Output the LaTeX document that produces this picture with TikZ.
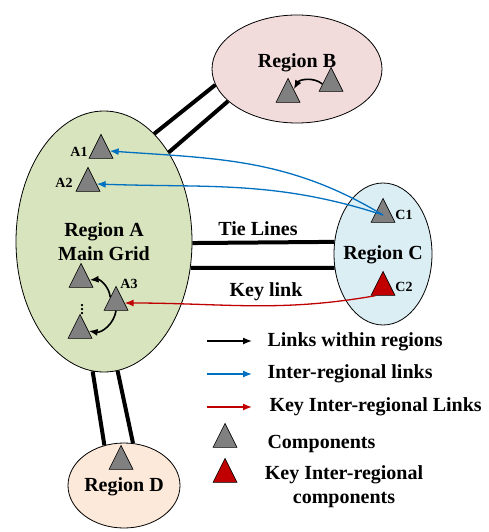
\documentclass[tikz,border=0pt]{standalone}
\usepackage{fontspec}
\setmainfont{Liberation Serif}
\usetikzlibrary{shapes.geometric,arrows.meta}

\definecolor{greenA}{HTML}{D7E4BD}
\definecolor{pinkB}{HTML}{F2DCDB}
\definecolor{blueC}{HTML}{DBEEF4}
\definecolor{peachD}{HTML}{FDE9D9}
\definecolor{compgray}{HTML}{808080}
\definecolor{keyred}{HTML}{C00000}
\definecolor{linkblue}{HTML}{0070C0}

\begin{document}
\begin{tikzpicture}[x=1pt,y=1pt,>={Latex[length=9pt,width=7pt]},
  every node/.style={font=\bfseries\fontsize{20}{24}\selectfont},
  region/.style={ellipse,draw,line width=0.8pt,inner sep=0pt},
  comp/.style={isosceles triangle,shape border rotate=90,isosceles triangle stretches,
    minimum width=24pt,minimum height=24pt,inner sep=0pt,draw,line width=0.6pt,fill=compgray},
  keycomp/.style={comp,fill=keyred},
  small/.style={font=\bfseries\fontsize{14}{16}\selectfont},
  tie/.style={line width=4pt},
  inner/.style={->,line width=1.6pt},
  inter/.style={->,line width=1.3pt,linkblue},
  keylink/.style={->,line width=1.3pt,keyred}]

\useasboundingbox (0,0) rectangle (488,-532);

\node[region,fill=greenA,minimum width=176pt,minimum height=261pt] (A) at (104,-241.5) {};

\node[region,fill=pinkB,minimum width=170pt,minimum height=108pt] (B) at (297,-69) {};

\node[region,fill=blueC,minimum width=98pt,minimum height=142pt] (C) at (383,-254) {};

\node[region,fill=peachD,minimum width=112pt,minimum height=85pt] (D) at (124,-485.5) {};

\node[align=center] (labA) at (104,-242) {Region A\\Main Grid};
\node (labB) at (297,-63) {Region B};
\node (labC) at (383,-255) {Region C};
\node (labD) at (124,-487) {Region D};
\node (tielab) at (258,-229) {Tie Lines};
\node (keylab) at (266,-292) {Key link};

\draw[tie] (A.65.3) -- (B.191.3);
\draw[tie] (A.54.9) -- (B.205.9);
\draw[tie] (A.-1) -- (C.166.8);
\draw[tie] (A.-17.3) -- (C.196.3);
\draw[tie] (A.265.1) -- (D.116.3);
\draw[tie] (A.276.7) -- (D.78.5);

\node[comp] (a1) at (101,-151) {};
\node[comp] (a2) at (88,-184) {};
\node[comp] (a4) at (81,-280) {};
\node[comp] (a3) at (116,-303) {};
\node[comp] (a5) at (80,-331) {};
\node[comp] (b1) at (288,-95) {};
\node[comp] (b2) at (331,-84) {};
\node[comp] (c1) at (383,-215) {};
\node[keycomp] (c2) at (383,-288) {};
\node[comp] (d1) at (121,-462) {};

\node[small] (na1) at (79,-152) {A1};
\node[small] (na2) at (64,-183) {A2};
\node[small] (na3) at (129,-284) {A3};
\node[small] (nc1) at (404,-215) {C1};
\node[small] (nc2) at (404,-287) {C2};
\node[small] (dots) at (82,-307) {$\vdots$};

\draw[inter] (c1.center) to[out=149,in=-4] (a1.east);
\draw[inter] (c1.center) to[out=162,in=-2] (a2.east);
\draw[keylink] (c2.south west) to[out=190,in=0] (a3.east);

\draw[inner] (a3.north west) to[bend right=45] (a4.east);
\draw[inner] (a3.south) to[bend left=45] (a5.east);
\draw[inner] (b2.west) to[bend right=50] (b1.north east);

\coordinate (l1s) at (207,-341);
\coordinate (l1e) at (252,-341);
\coordinate (l2s) at (207,-374);
\coordinate (l2e) at (252,-374);
\coordinate (l3s) at (207,-407);
\coordinate (l3e) at (252,-407);

\draw[->,line width=1.3pt] (l1s) -- (l1e);
\draw[inter] (l2s) -- (l2e);
\draw[keylink] (l3s) -- (l3e);

\node[comp] (lgc) at (225,-440) {};
\node[keycomp] (lgk) at (225,-475) {};

\node[anchor=west] (t1) at (264,-342) {Links within regions};
\node[anchor=west] (t2) at (264,-374) {Inter-regional links};
\node[anchor=west] (t3) at (266,-407) {Key Inter-regional Links};
\node[anchor=west] (t4) at (264,-444) {Components};
\node[align=center] (t5) at (344,-487) {Key Inter-regional\\components};

\end{tikzpicture}
\end{document}
